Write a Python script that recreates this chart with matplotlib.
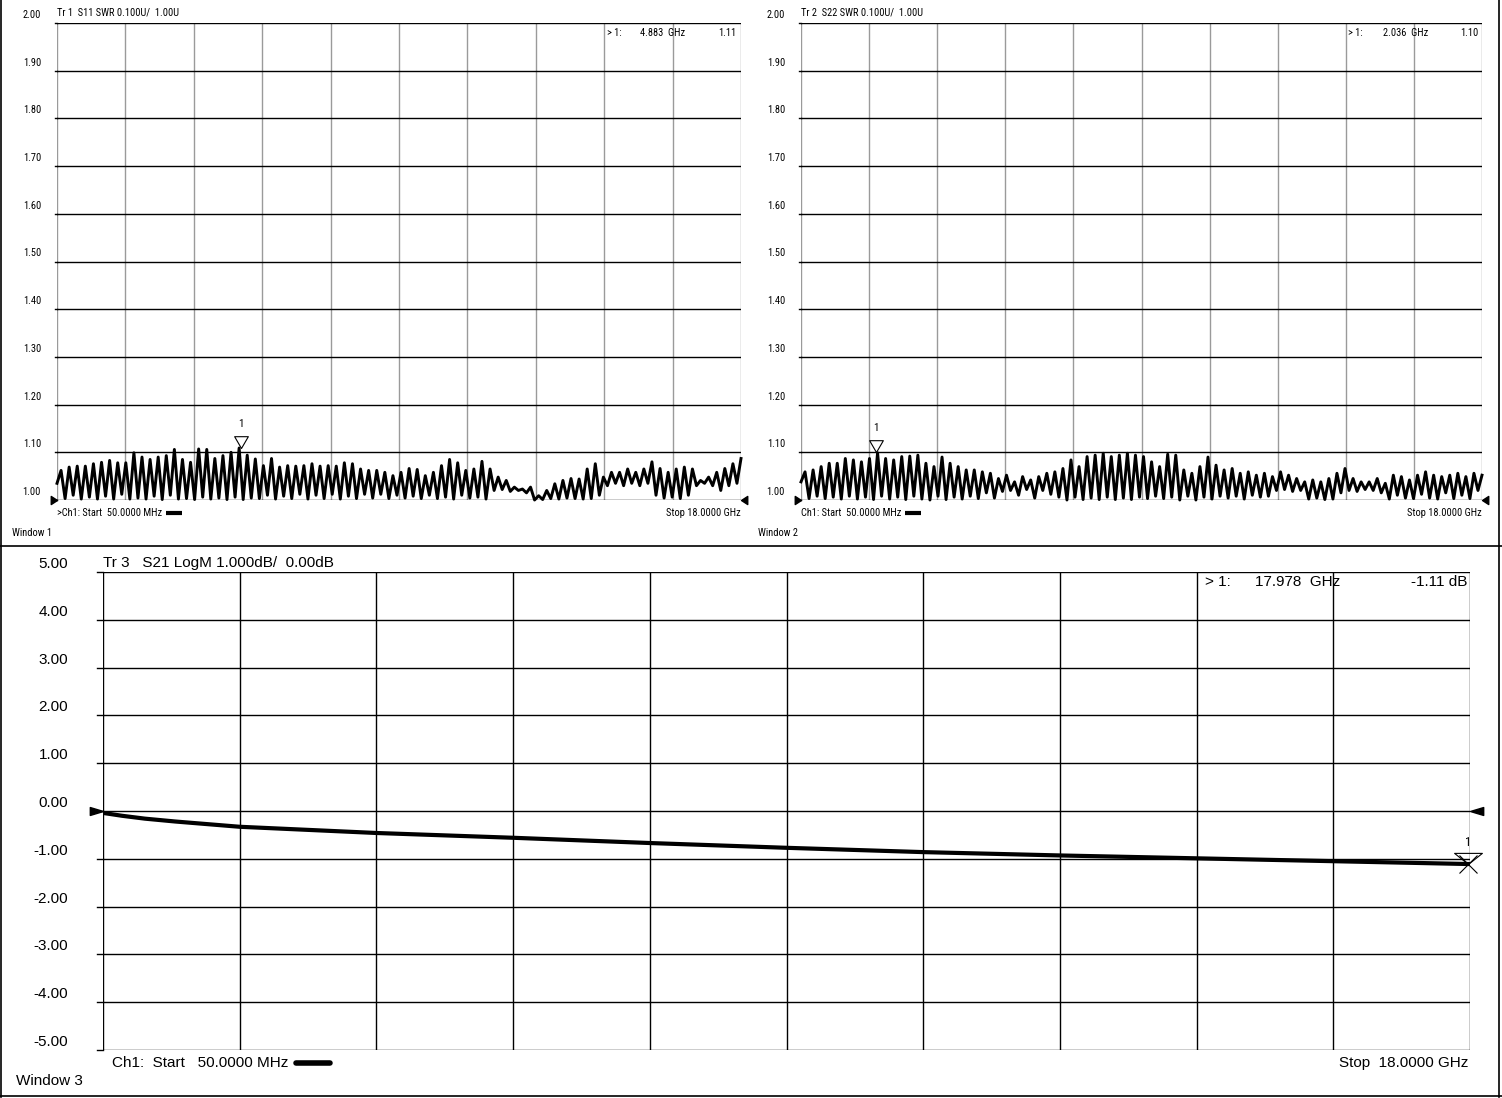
import matplotlib
matplotlib.use("Agg")
import matplotlib.pyplot as plt
from matplotlib import font_manager
from matplotlib.path import Path
import numpy as np

# sweep
f_start, f_stop = 0.05, 18.0

# S11 SWR: peak and trough of each ripple cycle, read left to right
s11_peaks = [1.062, 1.069, 1.071, 1.071, 1.076, 1.079, 1.083, 1.078, 1.078, 1.099,
             1.090, 1.085, 1.090, 1.093, 1.106, 1.085, 1.079, 1.107, 1.106, 1.087,
             1.093, 1.100, 1.109, 1.094, 1.086, 1.072, 1.087, 1.069, 1.072, 1.071,
             1.072, 1.076, 1.071, 1.072, 1.071, 1.078, 1.076, 1.065, 1.062,
             1.062, 1.058, 1.051, 1.058, 1.066, 1.064, 1.051, 1.058, 1.072, 1.085,
             1.078, 1.062, 1.065, 1.081, 1.065, 1.048, 1.041, 1.027, 1.023, 1.027,
             1.009, 1.020, 1.034, 1.041, 1.045, 1.044, 1.065, 1.076, 1.048, 1.058,
             1.058, 1.065, 1.058, 1.065, 1.080, 1.066, 1.058, 1.065, 1.069, 1.065,
             1.041, 1.048, 1.058, 1.066, 1.076, 1.087]
s11_troughs = [1.035, 1.003, 1.010, 1.002, 1.006, 1.002, 1.008, 1.002, 1.012, 1.002,
               1.004, 1.002, 1.008, 1.001, 1.010, 1.002, 1.003, 1.001, 1.006, 1.002,
               1.004, 1.001, 1.006, 1.001, 1.004, 1.003, 1.010, 1.002, 1.008, 1.003,
               1.012, 1.002, 1.010, 1.003, 1.012, 1.002, 1.008, 1.003, 1.012,
               1.004, 1.012, 1.003, 1.010, 1.004, 1.008, 1.003, 1.010, 1.003, 1.006,
               1.002, 1.010, 1.004, 1.006, 1.002, 1.020, 1.022, 1.018, 1.020, 1.015,
               1.000, 1.001, 1.003, 1.002, 1.004, 1.003, 1.002, 1.003, 1.010, 1.030,
               1.035, 1.030, 1.035, 1.030, 1.035, 1.010, 1.004, 1.006, 1.003, 1.010,
               1.030, 1.035, 1.030, 1.020, 1.030, 1.035]

# S22 SWR
s22_peaks = [1.059, 1.063, 1.070, 1.077, 1.077, 1.087, 1.084, 1.080, 1.087, 1.099,
             1.087, 1.084, 1.091, 1.092, 1.094, 1.077, 1.070, 1.090, 1.077, 1.070,
             1.063, 1.063, 1.059, 1.056, 1.045, 1.052, 1.038, 1.049, 1.042, 1.049,
             1.056, 1.059, 1.066, 1.084, 1.070, 1.091, 1.094, 1.098, 1.091, 1.094,
             1.098, 1.094, 1.091,
             1.080, 1.070, 1.096, 1.094, 1.063, 1.056, 1.070, 1.090, 1.073, 1.063,
             1.066, 1.056, 1.059, 1.052, 1.056, 1.049, 1.059, 1.052, 1.045, 1.038,
             1.042, 1.038, 1.045, 1.056, 1.066, 1.045, 1.038, 1.038, 1.045, 1.035,
             1.052, 1.049, 1.042, 1.052, 1.059, 1.052, 1.049, 1.052, 1.056, 1.049,
             1.056, 1.052]
s22_troughs = [1.038, 1.003, 1.008, 1.003, 1.006, 1.002, 1.008, 1.002, 1.006, 1.001,
               1.008, 1.002, 1.006, 1.001, 1.008, 1.002, 1.000, 1.008, 1.001, 1.006,
               1.002, 1.008, 1.003, 1.015, 1.004, 1.018, 1.020, 1.010, 1.022, 1.004,
               1.020, 1.012, 1.006, 1.000, 1.006, 1.001, 1.004, 1.001, 1.006, 1.001,
               1.004, 1.001, 1.006,
               1.003, 1.008, 1.003, 1.006, 1.000, 1.008, 1.000, 1.006, 1.002, 1.008,
               1.004, 1.008, 1.002, 1.010, 1.006, 1.008, 1.020, 1.022, 1.018, 1.020,
               1.002, 1.004, 1.001, 1.002, 1.015, 1.020, 1.018, 1.022, 1.020, 1.015,
               1.002, 1.010, 1.004, 1.003, 1.012, 1.004, 1.002, 1.015, 1.003, 1.010,
               1.003, 1.020]

# S21 LogM insertion loss
s21_freq = [0.05, 0.3, 0.6, 1.0, 1.845, 3.64, 5.435, 7.23, 9.025, 10.82, 12.615, 14.41, 16.205, 18.0]
s21_db = [-0.04, -0.10, -0.16, -0.22, -0.33, -0.46, -0.56, -0.67, -0.77, -0.86, -0.93, -0.99, -1.05, -1.11]

# markers
m1_freq, m1_val = 4.883, 1.11
m2_freq, m2_val = 2.036, 1.10
m3_freq, m3_val = 17.978, -1.11

W, H = 1502, 1098
_installed = {f.name for f in font_manager.fontManager.ttflist}
_narrow = [n for n in ["Liberation Sans Narrow", "DejaVu Sans Condensed", "Roboto Condensed",
                       "Open Sans Condensed", "Noto Sans Condensed"] if n in _installed]
NARROW = _narrow[:1] + ["Liberation Sans", "DejaVu Sans"]
SANS = ["Liberation Sans", "DejaVu Sans"]
small = 7.5 if _narrow else 7.0
big = 11

fig = plt.figure(figsize=(W / 100, H / 100), dpi=100)


def fx(px):
    return px / W


def fy(py):
    return 1 - py / H


def ptext(x, y, s, size, fam, ha="left"):
    return fig.text(fx(x), fy(y), s, fontsize=size, family=fam, ha=ha, va="center")


def ripple(peaks, troughs):
    vals = np.empty(2 * len(peaks))
    vals[0::2] = troughs
    vals[1::2] = peaks
    freq = np.linspace(f_start, f_stop, len(vals))
    return freq, vals


def tri(pts):
    return Path(pts + [pts[0]], [Path.MOVETO, Path.LINETO, Path.LINETO, Path.CLOSEPOLY])


tip_down = tri([(-0.58, 1.0), (0.58, 1.0), (0.0, 0.0)])
tip_down_flat = tri([(-1.0, 0.8), (1.0, 0.8), (0.0, 0.0)])
arrow_r_small = tri([(-1.0, 0.65), (-1.0, -0.65), (0.0, 0.0)])
arrow_l_small = tri([(1.0, 0.65), (1.0, -0.65), (0.0, 0.0)])
arrow_r_flat = tri([(-1.0, 0.3), (-1.0, -0.3), (0.0, 0.0)])
arrow_l_flat = tri([(1.0, 0.3), (1.0, -0.3), (0.0, 0.0)])


def setup(ax, ymin, ymax, vcolor, ticklen):
    ax.set_xlim(f_start, f_stop)
    ax.set_ylim(ymin, ymax)
    for s in ax.spines.values():
        s.set_visible(False)
    ax.set_xticks([])
    ax.set_yticks([])
    for xv in np.linspace(f_start, f_stop, 11):
        ax.axvline(xv, color=vcolor, lw=1.0, zorder=1)
    for yv in np.linspace(ymin, ymax, 11):
        ax.axhline(yv, color="black", lw=1.0, zorder=1)
        ax.plot([0, -ticklen], [yv, yv], color="black", lw=1.0,
                transform=ax.get_yaxis_transform(), clip_on=False)


def ref_arrows(ax, ref, rpath, lpath, size):
    ax.plot([f_start], [ref], marker=rpath, ms=size, color="black", clip_on=False, zorder=5)
    ax.plot([f_stop], [ref], marker=lpath, ms=size, color="black", clip_on=False, zorder=5)


renderer = fig.canvas.get_renderer()

# ---- top windows (SWR)
swr_panels = [
    (57, 741, "Tr 1  S11 SWR 0.100U/  1.00U", s11_peaks, s11_troughs, m1_freq, m1_val,
     ">Ch1: Start  50.0000 MHz", "Window 1", 12, (607, 640, 736), "4.883  GHz", "1.11"),
    (801, 1482, "Tr 2  S22 SWR 0.100U/  1.00U", s22_peaks, s22_troughs, m2_freq, m2_val,
     "Ch1: Start  50.0000 MHz", "Window 2", 758, (1348, 1383, 1478), "2.036  GHz", "1.10"),
]
for (x0, x1, head, pk, tr, mf, mv, start_lbl, win, winx, rd, rdf, rdv) in swr_panels:
    ax = fig.add_axes([fx(x0), fy(500), fx(x1 - x0), (500 - 23) / H])
    setup(ax, 1.0, 2.0, "#9a9a9a", 0.003)
    for yv in np.linspace(1.0, 2.0, 11):
        ax.annotate(f"{yv:.2f}", xy=(0, yv), xycoords=("axes fraction", "data"),
                    xytext=(-16 * 0.72, 8 * 0.72), textcoords="offset points",
                    ha="right", va="center", fontsize=small, family=NARROW)
    freq, vals = ripple(pk, tr)
    ax.plot(freq, vals, color="black", lw=2.1, zorder=4, clip_on=False,
            solid_joinstyle="round")
    ax.plot([mf], [mv], marker=tip_down, ms=17, mfc="white", mec="black", mew=0.8,
            zorder=6, clip_on=False)
    ax.annotate("1", xy=(mf, mv), xytext=(0, 24 * 0.72), textcoords="offset points",
                ha="center", va="center", fontsize=small + 0.5, family=NARROW)
    ref_arrows(ax, 1.0, arrow_r_small, arrow_l_small, 9)
    ptext(x0, 13, head, small, NARROW)
    ptext(rd[0], 33, "> 1:", small, NARROW)
    ptext(rd[1], 33, rdf, small, NARROW)
    ptext(rd[2], 33, rdv, small, NARROW, ha="right")
    t = ptext(x0, 513, start_lbl, small, NARROW)
    ptext(x1, 513, "Stop 18.0000 GHz", small, NARROW, ha="right")
    ptext(winx, 533, win, small, NARROW)
    bar_x = max(x0 + (100 if start_lbl.startswith(">") else 96),
                t.get_window_extent(renderer).x1 + 4)
    fig.add_artist(plt.Line2D([fx(bar_x), fx(bar_x + 16)], [fy(513), fy(513)],
                              color="black", lw=3, solid_capstyle="butt"))

# ---- bottom window (S21)
ax3 = fig.add_axes([fx(103), fy(1050), fx(1470 - 103), (1050 - 572) / H])
setup(ax3, -5.0, 5.0, "black", 0.0045)
for yv in np.linspace(-5.0, 5.0, 11):
    ax3.annotate(f"{yv:.2f}", xy=(0, yv), xycoords=("axes fraction", "data"),
                 xytext=(-35 * 0.72, 8 * 0.72), textcoords="offset points",
                 ha="right", va="center", fontsize=big, family=SANS)
ax3.plot(s21_freq, s21_db, color="black", lw=3.0, zorder=4, solid_capstyle="round")
ax3.plot([m3_freq], [m3_val], marker=tip_down_flat, ms=20, mfc="none", mec="black", mew=0.8,
         zorder=6, clip_on=False)
ax3.plot([m3_freq], [m3_val], marker="x", ms=13, color="black", mew=0.8, zorder=6, clip_on=False)
ax3.annotate("1", xy=(m3_freq, m3_val), xytext=(0, 22 * 0.72), textcoords="offset points",
             ha="center", va="center", fontsize=9, family=NARROW)
ref_arrows(ax3, 0.0, arrow_r_flat, arrow_l_flat, 19)
ptext(103, 563, "Tr 3   S21 LogM 1.000dB/  0.00dB", big, SANS)
ptext(1205, 582, "> 1:", big, SANS)
ptext(1255, 582, "17.978  GHz", big, SANS)
ptext(1467, 582, "-1.11 dB", big, SANS, ha="right")
ptext(112, 1063, "Ch1:  Start   50.0000 MHz", big, SANS)
fig.add_artist(plt.Line2D([fx(296), fx(330)], [fy(1063), fy(1063)], color="black", lw=4,
                          solid_capstyle="round"))
ptext(1468, 1063, "Stop  18.0000 GHz", big, SANS, ha="right")
ptext(16, 1081, "Window 3", big, SANS)

# frame lines of the analyzer screen
for xs, ys in [([1, 1], [0, 1097]), ([1499, 1499], [0, 1097]), ([0, 1502], [1096, 1096]),
               ([0, 1502], [546, 546])]:
    fig.add_artist(plt.Line2D([fx(xs[0]), fx(xs[1])], [fy(ys[0]), fy(ys[1])],
                              color="black", lw=1.2))

fig.savefig("out.png", dpi=100, facecolor="white")
